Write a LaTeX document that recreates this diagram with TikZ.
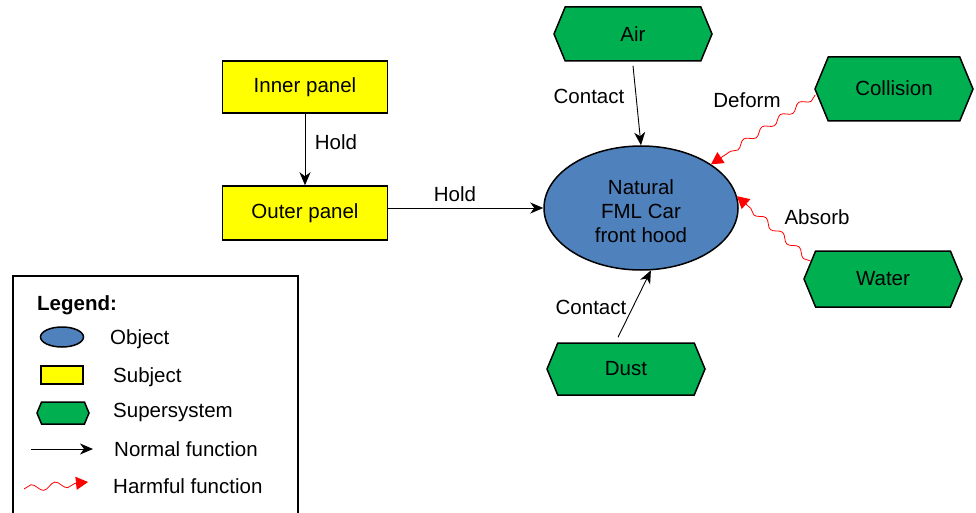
\documentclass[tikz,border=0pt]{standalone}
\usepackage{fontspec}
\setmainfont{Liberation Sans}
\usetikzlibrary{shapes.geometric,shapes.symbols,arrows.meta,decorations.pathmorphing}
\definecolor{subjyellow}{HTML}{FFFF00}
\definecolor{supgreen}{HTML}{00B050}
\definecolor{objblue}{HTML}{4F81BD}
\begin{document}
\begin{tikzpicture}[x=1pt,y=-1pt, font=\fontsize{20.5}{24}\selectfont,
 subj/.style={draw, line width=1.5pt, fill=subjyellow, minimum width=165pt, minimum height=52pt, inner sep=0pt},
 sup/.style={signal, signal to=east and west, signal pointer angle=135, draw, line width=1.5pt, fill=supgreen, minimum width=158pt, minimum height=54pt, inner sep=0pt},
 obj/.style={ellipse, draw, line width=1.5pt, fill=objblue, minimum width=194pt, minimum height=124pt, inner sep=0pt, align=center},
 normal/.style={draw, line width=0.9pt, -{Stealth[length=13pt,width=11pt,inset=4pt]}},
 harm/.style={draw=red, line width=0.8pt, -{Triangle[length=12pt,width=13pt]}, decorate, decoration={snake, segment length=22pt, amplitude=3pt, post=lineto, post length=14pt}},
 lbl/.style={inner sep=0pt}
]
\useasboundingbox (0,0) rectangle (976,513);

% main nodes
\node[subj] (inner) at (305,87) {Inner panel};
\node[subj, minimum height=54pt] (outer) at (305,213) {Outer panel};
\node[obj] (hood) at (641,208) {};
\node[lbl, align=center] (hoodtext) at (641,211) {Natural\\FML Car\\front hood};
\node[sup] (air) at (633,34) {\raisebox{-2pt}{Air}};
\node[sup, minimum height=64pt] (coll) at (894,89) {\raisebox{2pt}{Collision}};
\node[sup, minimum height=56pt] (water) at (883,279) {Water};
\node[sup, minimum height=52pt] (dust) at (626,369) {\raisebox{-2pt}{Dust}};

% connectors
\draw[normal] (inner) -- (outer);
\draw[normal] (outer.east |- hood.west) -- (hood.west);
\draw[normal] ([yshift=-4pt]air.south) -- (hood.north);
\draw[normal] ([xshift=-8pt,yshift=5pt]dust.north) -- (hood.-81);
\draw[harm] ([xshift=1pt,yshift=-6pt]coll.west) -- (hood.32);
\draw[harm] (water.166) -- (hood.7);

% labels
\node[lbl] (h1) at (336,142) {Hold};
\node[lbl] (h2) at (455,194) {Hold};
\node[lbl] (c1) at (589,96) {Contact};
\node[lbl] (c2) at (591,307) {Contact};
\node[lbl] (deform) at (747,100) {Deform};
\node[lbl] (absorb) at (817,217) {Absorb};

% legend
\draw[line width=1.5pt] (13,520) -- (13,276) -- (298,276) -- (298,520);
\node[lbl, anchor=base west, font=\fontsize{20.5}{24}\selectfont\bfseries] (legtitle) at (37,310) {Legend:};
\node[obj, minimum width=43pt, minimum height=20pt] (lobj) at (62,337) {};
\node[lbl, anchor=base west] (tobj) at (110,344) {Object};
\node[subj, minimum width=42pt, minimum height=18pt] (lsubj) at (62,375) {};
\node[lbl, anchor=base west] (tsubj) at (113,382) {Subject};
\node[sup, minimum width=52pt, minimum height=22pt] (lsup) at (63,413) {};
\node[lbl, anchor=base west] (tsup) at (113,417) {Supersystem};
\coordinate (ln1) at (31,449);
\coordinate (ln2) at (93,449);
\draw[normal] (ln1) -- (ln2);
\node[lbl, anchor=base west] (tnorm) at (114,456) {Normal function};
\coordinate (lh1) at (24,489);
\coordinate (lh2) at (88,482);
\draw[harm, decoration={segment length=24pt, amplitude=3.5pt, post length=12pt}] (lh1) -- (lh2);
\node[lbl, anchor=base west] (tharm) at (113,493) {Harmful function};
\end{tikzpicture}
\end{document}
